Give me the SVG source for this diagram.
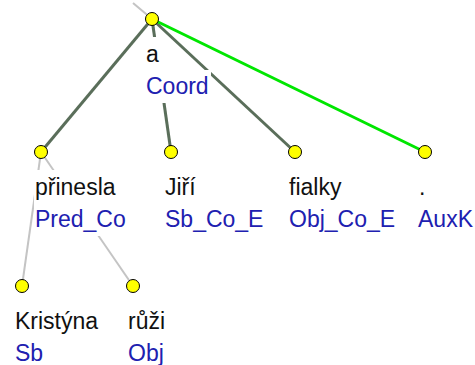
<svg xmlns="http://www.w3.org/2000/svg" width="475" height="365" viewBox="0 0 475 365">
<style>
.bg{fill:#ffffff;stroke:none}
.dot{fill:#ffff00;stroke:#000000;stroke-width:1}
.e{fill:none;stroke-linecap:butt}
.dark{stroke:#5a6e5a;stroke-width:3}
.green{stroke:#00e600;stroke-width:3}
.gray{stroke:#c4c4c4;stroke-width:2}
text{font-family:"Liberation Sans",Arial,sans-serif;font-size:23px}
.w{fill:#111111}
.l{fill:#2020b0}
</style>
<rect x="0" y="0" width="475" height="365" fill="#ffffff"/>
<g id="connectors">
<line class="e gray" x1="133" y1="3" x2="152" y2="19"/>
<line class="e dark" x1="152" y1="19" x2="41" y2="152"/>
<line class="e dark" x1="152" y1="19" x2="171" y2="152"/>
<line class="e dark" x1="152" y1="19" x2="295" y2="152"/>
<line class="e green" x1="152" y1="19" x2="425" y2="152"/>
<line class="e gray" x1="41" y1="152" x2="22" y2="286"/>
<line class="e gray" x1="41" y1="152" x2="133" y2="286"/>
</g>
<g id="node-a">
<rect class="bg" x="144" y="37" width="17" height="33"/>
<rect class="bg" x="144" y="70" width="67" height="33"/>
<circle class="dot" cx="152" cy="19" r="6.5"/>
<text class="w" x="146" y="62">a</text>
<text class="l" x="146" y="94">Coord</text>
</g>
<g id="node-prinesla">
<rect class="bg" x="34" y="170" width="84" height="33"/>
<rect class="bg" x="34" y="203" width="94" height="33"/>
<circle class="dot" cx="41" cy="152" r="6.5"/>
<text class="w" x="35" y="195">přinesla</text>
<text class="l" x="35" y="227">Pred_Co</text>
</g>
<g id="node-jiri">
<rect class="bg" x="163" y="170" width="33" height="33"/>
<rect class="bg" x="163" y="203" width="104" height="33"/>
<circle class="dot" cx="171" cy="152" r="6.5"/>
<text class="w" x="165" y="195">Jiří</text>
<text class="l" x="165" y="227">Sb_Co_E</text>
</g>
<g id="node-fialky">
<rect class="bg" x="287" y="170" width="56" height="33"/>
<rect class="bg" x="287" y="203" width="111" height="33"/>
<circle class="dot" cx="295" cy="152" r="6.5"/>
<text class="w" x="289" y="195">fialky</text>
<text class="l" x="289" y="227">Obj_Co_E</text>
</g>
<g id="node-auxk">
<rect class="bg" x="417" y="170" width="10" height="33"/>
<rect class="bg" x="417" y="203" width="58" height="33"/>
<circle class="dot" cx="425" cy="152" r="6.5"/>
<text class="w" x="419" y="195">.</text>
<text class="l" x="418" y="227">AuxK</text>
</g>
<g id="node-kristyna">
<rect class="bg" x="13" y="304" width="87" height="33"/>
<rect class="bg" x="13" y="337" width="32" height="28"/>
<circle class="dot" cx="22" cy="286" r="6.5"/>
<text class="w" x="15" y="329">Kristýna</text>
<text class="l" x="15" y="361">Sb</text>
</g>
<g id="node-ruzi">
<rect class="bg" x="126" y="304" width="41" height="33"/>
<rect class="bg" x="126" y="337" width="40" height="28"/>
<circle class="dot" cx="133" cy="286" r="6.5"/>
<text class="w" x="128" y="329">růži</text>
<text class="l" x="128" y="361">Obj</text>
</g>
</svg>
